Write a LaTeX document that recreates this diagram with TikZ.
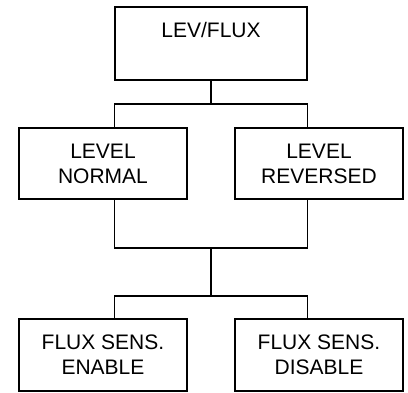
\documentclass[tikz,border=0pt]{standalone}
\usepackage{fontspec}
\setmainfont{Liberation Sans}
\begin{document}
\begin{tikzpicture}[x=1pt,y=-1pt,
  box/.style={draw=black,line width=1.4pt,rectangle,inner sep=0pt,align=center,
    font=\fontsize{21}{25}\selectfont},
  wire/.style={draw=black,line width=1.3pt},
  lbl/.style={inner sep=0pt,font=\fontsize{21}{25}\selectfont}]
\fill[white] (0,0) rectangle (408,392);
\useasboundingbox (0,0) rectangle (408,392);
\node[box,minimum width=192pt,minimum height=73pt] (top) at (211,43.5) {};
\node[lbl,anchor=base] (toptext) at (211,37.7) {LEV/FLUX};
\node[box,minimum width=168pt,minimum height=71pt] (midL) at (103,163.5) {LEVEL\\NORMAL};
\node[box,minimum width=168pt,minimum height=71pt] (midR) at (319,163.5) {LEVEL\\REVERSED};
\node[box,minimum width=168pt,minimum height=72pt] (botL) at (103,355) {FLUX SENS.\\ENABLE};
\node[box,minimum width=168pt,minimum height=72pt] (botR) at (319,355) {FLUX SENS.\\DISABLE};
\coordinate (busA) at (211,104);
\coordinate (busB) at (211,248);
\coordinate (busC) at (211,296);
\draw[wire] (top.south) -- (busA);
\draw[wire] (top.south west |- midL.north) |- (busA) -| (top.south east |- midR.north);
\draw[wire] (top.south west |- midL.south) |- (busB) -| (top.south east |- midR.south);
\draw[wire] (busB) -- (busC);
\draw[wire] (top.south west |- botL.north) |- (busC) -| (top.south east |- botR.north);
\end{tikzpicture}
\end{document}
